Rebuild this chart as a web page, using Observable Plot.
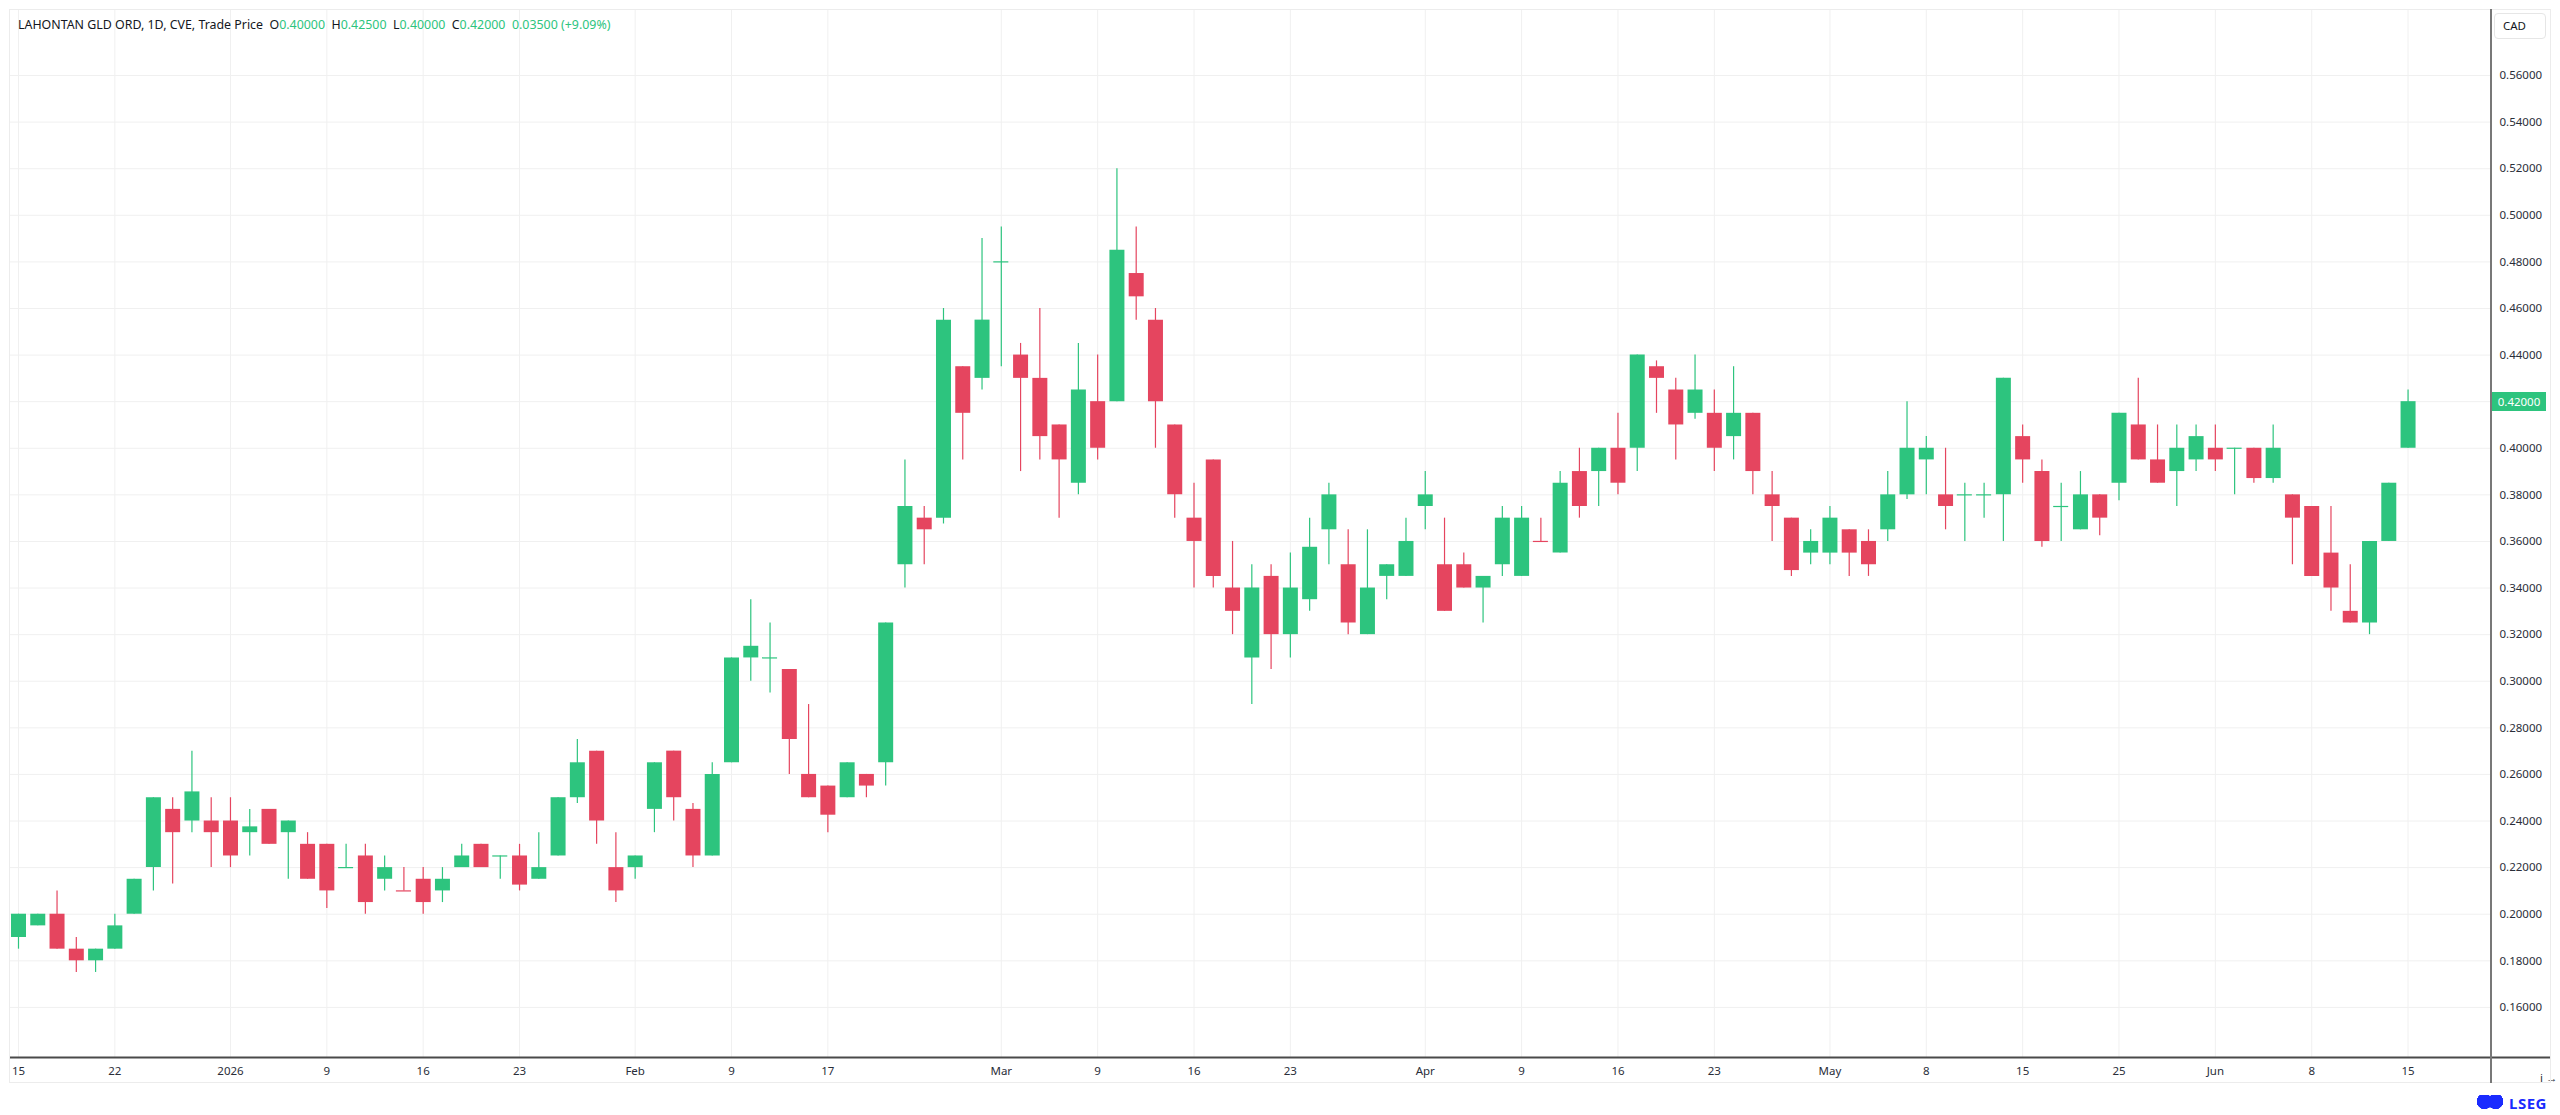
<!DOCTYPE html>
<html>
<head>
<meta charset="utf-8">
<script src="https://cdn.jsdelivr.net/npm/d3@7"></script>
<script src="https://cdn.jsdelivr.net/npm/@observablehq/plot@0.6"></script>
<style>
  html, body { margin: 0; padding: 0; background: #ffffff; }
  #wrap { position: relative; width: 2560px; height: 1115px; font-family: "Noto Sans", "Open Sans", sans-serif; }
  #frame { position: absolute; left: 9px; top: 9px; width: 2542px; height: 1074px; border: 1px solid #ececec; box-sizing: border-box; pointer-events: none; }
  #header { position: absolute; left: 18px; top: 16px; font-size: 12.4px; color: #131722; white-space: pre; }
  #header .v { color: #2dc47e; }
  #cad { position: absolute; left: 2494px; top: 13px; width: 52px; height: 26px; border: 1px solid #e6e6e6; border-radius: 4px; box-sizing: border-box; font-size: 11.5px; color: #131722; line-height: 24px; padding-left: 8px; background: #fff; }
  #last { position: absolute; left: 2492px; width: 54px; height: 19px; background: #2dc47e; color: #fff; font-size: 11.5px; line-height: 19px; text-align: center; }
  #vaxis { position: absolute; top: 9px; width: 2px; background: #787878; }
  #logo { position: absolute; left: 2476px; top: 1093px; font-size: 15px; font-weight: bold; color: #1a2bff; letter-spacing: 0.5px; display: flex; align-items: center; gap: 5px; }
  #logo .ic { width: 28px; height: 16px; background: radial-gradient(circle at 30% 40%, #1a2bff 35%, transparent 36%), radial-gradient(circle at 70% 40%, #1a2bff 35%, transparent 36%), linear-gradient(#1a2bff, #1a2bff) center/60% 60% no-repeat; }
</style>
</head>
<body>
<div id="wrap">
  <div id="chart"></div>
  <div id="frame"></div>
  <div id="header"></div>
  <div id="cad">CAD</div>
  <div id="logo"><span class="ic"></span><span>LSEG</span></div>
</div>
<script>
// ---- data (daily OHLC, CVE trading days) ----
const dates = [
  "2025-12-15","2025-12-16","2025-12-17","2025-12-18","2025-12-19",
  "2025-12-22","2025-12-23","2025-12-24","2025-12-29","2025-12-30","2025-12-31",
  "2026-01-02","2026-01-05","2026-01-06","2026-01-07","2026-01-08","2026-01-09",
  "2026-01-12","2026-01-13","2026-01-14","2026-01-15","2026-01-16",
  "2026-01-19","2026-01-20","2026-01-21","2026-01-22","2026-01-23",
  "2026-01-26","2026-01-27","2026-01-28","2026-01-29","2026-01-30",
  "2026-02-02","2026-02-03","2026-02-04","2026-02-05","2026-02-06",
  "2026-02-09","2026-02-10","2026-02-11","2026-02-12","2026-02-13",
  "2026-02-17","2026-02-18","2026-02-19","2026-02-20",
  "2026-02-23","2026-02-24","2026-02-25","2026-02-26","2026-02-27",
  "2026-03-02","2026-03-03","2026-03-04","2026-03-05","2026-03-06",
  "2026-03-09","2026-03-10","2026-03-11","2026-03-12","2026-03-13",
  "2026-03-16","2026-03-17","2026-03-18","2026-03-19","2026-03-20",
  "2026-03-23","2026-03-24","2026-03-25","2026-03-26","2026-03-27",
  "2026-03-30","2026-03-31","2026-04-01","2026-04-02",
  "2026-04-06","2026-04-07","2026-04-08","2026-04-09","2026-04-10",
  "2026-04-13","2026-04-14","2026-04-15","2026-04-16","2026-04-17",
  "2026-04-20","2026-04-21","2026-04-22","2026-04-23","2026-04-24",
  "2026-04-27","2026-04-28","2026-04-29","2026-04-30","2026-05-01",
  "2026-05-04","2026-05-05","2026-05-06","2026-05-07","2026-05-08",
  "2026-05-11","2026-05-12","2026-05-13","2026-05-14","2026-05-15",
  "2026-05-19","2026-05-20","2026-05-21","2026-05-22",
  "2026-05-25","2026-05-26","2026-05-27","2026-05-28","2026-05-29",
  "2026-06-01","2026-06-02","2026-06-03","2026-06-04","2026-06-05",
  "2026-06-08","2026-06-09","2026-06-10","2026-06-11","2026-06-12",
  "2026-06-15"
];
const opens = [
  0.19,0.195,0.20,0.185,0.18,
  0.185,0.20,0.22,0.245,0.24,0.24,
  0.24,0.235,0.245,0.235,0.23,0.23,
  0.22,0.225,0.215,0.21,0.215,
  0.21,0.22,0.23,0.225,0.225,
  0.215,0.225,0.25,0.27,0.22,
  0.22,0.245,0.27,0.245,0.225,
  0.265,0.31,0.31,0.305,0.26,
  0.255,0.25,0.26,0.265,
  0.35,0.37,0.37,0.435,0.43,
  0.48,0.44,0.43,0.41,0.385,
  0.42,0.42,0.475,0.455,0.41,
  0.37,0.395,0.34,0.31,0.345,
  0.32,0.335,0.365,0.35,0.32,
  0.345,0.345,0.375,0.35,
  0.35,0.34,0.35,0.345,0.36,
  0.355,0.39,0.39,0.40,0.40,
  0.435,0.425,0.415,0.415,0.405,
  0.415,0.38,0.37,0.355,0.355,
  0.365,0.36,0.365,0.38,0.395,
  0.38,0.38,0.38,0.38,0.405,
  0.39,0.375,0.365,0.38,
  0.385,0.41,0.395,0.39,0.395,
  0.40,0.40,0.40,0.387,0.38,
  0.375,0.355,0.33,0.325,0.36,
  0.40
];
const highs = [
  0.20,0.20,0.21,0.19,0.185,
  0.20,0.215,0.25,0.25,0.27,0.25,
  0.25,0.245,0.245,0.24,0.235,0.23,
  0.23,0.23,0.225,0.22,0.22,
  0.22,0.23,0.23,0.225,0.23,
  0.235,0.25,0.275,0.27,0.235,
  0.225,0.265,0.27,0.2475,0.265,
  0.31,0.335,0.325,0.305,0.29,
  0.255,0.265,0.26,0.325,
  0.395,0.375,0.46,0.435,0.49,
  0.495,0.445,0.46,0.41,0.445,
  0.44,0.52,0.495,0.46,0.41,
  0.385,0.395,0.36,0.35,0.35,
  0.355,0.37,0.385,0.365,0.365,
  0.35,0.37,0.39,0.37,
  0.355,0.345,0.375,0.375,0.37,
  0.39,0.40,0.40,0.415,0.44,
  0.4375,0.43,0.44,0.425,0.435,
  0.415,0.39,0.37,0.365,0.375,
  0.365,0.365,0.39,0.42,0.405,
  0.40,0.385,0.385,0.43,0.41,
  0.395,0.385,0.39,0.38,
  0.415,0.43,0.41,0.41,0.41,
  0.41,0.40,0.40,0.41,0.38,
  0.375,0.375,0.35,0.36,0.385,
  0.425
];
const lows = [
  0.185,0.195,0.185,0.175,0.175,
  0.185,0.20,0.21,0.213,0.235,0.22,
  0.22,0.225,0.23,0.215,0.215,0.2025,
  0.22,0.20,0.21,0.21,0.20,
  0.205,0.22,0.22,0.215,0.21,
  0.215,0.225,0.2475,0.23,0.205,
  0.215,0.235,0.24,0.22,0.225,
  0.265,0.30,0.295,0.26,0.25,
  0.235,0.25,0.25,0.255,
  0.34,0.35,0.3675,0.395,0.425,
  0.435,0.39,0.395,0.37,0.38,
  0.395,0.42,0.455,0.40,0.37,
  0.34,0.34,0.32,0.29,0.305,
  0.31,0.33,0.35,0.32,0.32,
  0.335,0.345,0.365,0.33,
  0.34,0.325,0.345,0.345,0.36,
  0.355,0.37,0.375,0.38,0.39,
  0.415,0.395,0.4125,0.39,0.395,
  0.38,0.36,0.345,0.35,0.35,
  0.345,0.345,0.36,0.378,0.38,
  0.365,0.36,0.37,0.36,0.385,
  0.3575,0.36,0.365,0.3625,
  0.3775,0.395,0.385,0.375,0.39,
  0.39,0.38,0.385,0.385,0.35,
  0.345,0.33,0.325,0.32,0.36,
  0.40
];
const closes = [
  0.20,0.20,0.185,0.18,0.185,
  0.195,0.215,0.25,0.235,0.2525,0.235,
  0.225,0.2375,0.23,0.24,0.215,0.21,
  0.22,0.205,0.22,0.21,0.205,
  0.215,0.225,0.22,0.225,0.2125,
  0.22,0.25,0.265,0.24,0.21,
  0.225,0.265,0.25,0.225,0.26,
  0.31,0.315,0.31,0.275,0.25,
  0.2425,0.265,0.255,0.325,
  0.375,0.365,0.455,0.415,0.455,
  0.48,0.43,0.405,0.395,0.425,
  0.40,0.485,0.465,0.42,0.38,
  0.36,0.345,0.33,0.34,0.32,
  0.34,0.3575,0.38,0.325,0.34,
  0.35,0.36,0.38,0.33,
  0.34,0.345,0.37,0.37,0.36,
  0.385,0.375,0.40,0.385,0.44,
  0.43,0.41,0.425,0.40,0.415,
  0.39,0.375,0.3475,0.36,0.37,
  0.355,0.35,0.38,0.40,0.40,
  0.375,0.38,0.38,0.43,0.395,
  0.36,0.375,0.38,0.37,
  0.415,0.395,0.385,0.40,0.405,
  0.395,0.40,0.387,0.40,0.37,
  0.345,0.34,0.325,0.36,0.385,
  0.42
];
// dojis (open == close) that the source paints red
const downDojis = ["2026-01-15", "2026-04-10"];

// x-axis labels
const tickDates = ["2025-12-15","2025-12-22","2026-01-02","2026-01-09","2026-01-16","2026-01-23",
  "2026-02-02","2026-02-09","2026-02-17","2026-03-02","2026-03-09","2026-03-16","2026-03-23",
  "2026-04-01","2026-04-09","2026-04-16","2026-04-23","2026-05-01","2026-05-08","2026-05-15",
  "2026-05-25","2026-06-01","2026-06-08","2026-06-15"];
const tickLabels = ["15","22","2026","9","16","23","Feb","9","17","Mar","9","16","23",
  "Apr","9","16","23","May","8","15","25","Jun","8","15"];
// y-axis ticks
const yTicks = [0.16,0.18,0.20,0.22,0.24,0.26,0.28,0.30,0.32,0.34,0.36,0.38,0.40,0.42,0.44,0.46,0.48,0.50,0.52,0.54,0.56];

const header = {name: "LAHONTAN GLD ORD, 1D, CVE, Trade Price", o: "0.40000", h: "0.42500", l: "0.40000", c: "0.42000", chg: "0.03500 (+9.09%)"};
const currency = "CAD";

// ---- build ----
const UP = "#2dc47e", DOWN = "#e5455f";
const data = dates.map((d, i) => {
  const o = opens[i], c = closes[i];
  const up = c > o || (c === o && !downDojis.includes(d));
  return {i, date: d, o, h: highs[i], l: lows[i], c, color: up ? UP : DOWN, doji: c === o};
});
const tickIdx = tickDates.map(d => dates.indexOf(d));
const labelOf = new Map(tickIdx.map((k, j) => [k, tickLabels[j]]));

const W = 2560, H = 1084;
const xDomain = [-0.415, 128.33];
const yDomain = [0.1385, 0.5879];
const half = 0.39;
const xAxisRightExt = xDomain[1] + (xDomain[1] - xDomain[0]) * 60 / 2481;

const chart = Plot.plot({
  width: W, height: H,
  marginLeft: 10, marginRight: 69, marginTop: 10, marginBottom: 27,
  style: {fontFamily: "'Noto Sans', 'Open Sans', sans-serif", fontSize: "11.5px", color: "#2a2e39", background: "transparent", overflow: "visible"},
  x: {type: "linear", domain: xDomain, axis: null},
  y: {type: "linear", domain: yDomain, axis: null},
  marks: [
    Plot.gridY(yTicks, {stroke: "#f0f0f0", strokeOpacity: 1}),
    Plot.gridX(tickIdx, {stroke: "#f0f0f0", strokeOpacity: 1}),
    Plot.ruleX(data, {x: "i", y1: "l", y2: "h", stroke: "color", strokeWidth: 1.2}),
    Plot.ruleX(data.filter(d => !d.doji), {x: "i", y1: "o", y2: "c", stroke: "color", strokeWidth: 15}),
    Plot.ruleY(data.filter(d => d.doji), {y: "o", x1: d => d.i - half, x2: d => d.i + half, stroke: "color", strokeWidth: 1.2}),
    Plot.axisY(yTicks, {anchor: "right", tickSize: 0, tickPadding: 8, tickFormat: d3.format(".5f"), fill: "#2a2e39"}),
    Plot.axisX(tickIdx, {anchor: "bottom", tickSize: 0, tickPadding: 9, tickFormat: k => labelOf.get(k), fill: "#2a2e39"}),
    Plot.ruleY([yDomain[0]], {x1: xDomain[0], x2: xAxisRightExt, stroke: "#4a4a4a", strokeWidth: 2})
  ]
});
document.getElementById("chart").appendChild(chart);

// header
const hd = document.getElementById("header");
hd.innerHTML = `${header.name}  O<span class="v">${header.o}</span>  H<span class="v">${header.h}</span>  L<span class="v">${header.l}</span>  C<span class="v">${header.c}</span>  <span class="v">${header.chg}</span>`;
document.getElementById("cad").textContent = currency;

const wrap = document.getElementById("wrap");
// right price-axis line, placed through the x scale
const ax = chart.scale("x").apply(xDomain[1]);
const vax = document.createElement("div");
vax.id = "vaxis";
vax.style.left = (ax - 1) + "px";
vax.style.height = "1074px";
wrap.appendChild(vax);

// last price tag on the right axis
const last = data[data.length - 1];
const ly = chart.scale("y").apply(last.c);
const tag = document.createElement("div");
tag.id = "last";
tag.style.top = (ly - 9.5) + "px";
tag.textContent = d3.format(".5f")(last.c);
wrap.appendChild(tag);
</script>
</body>
</html>
